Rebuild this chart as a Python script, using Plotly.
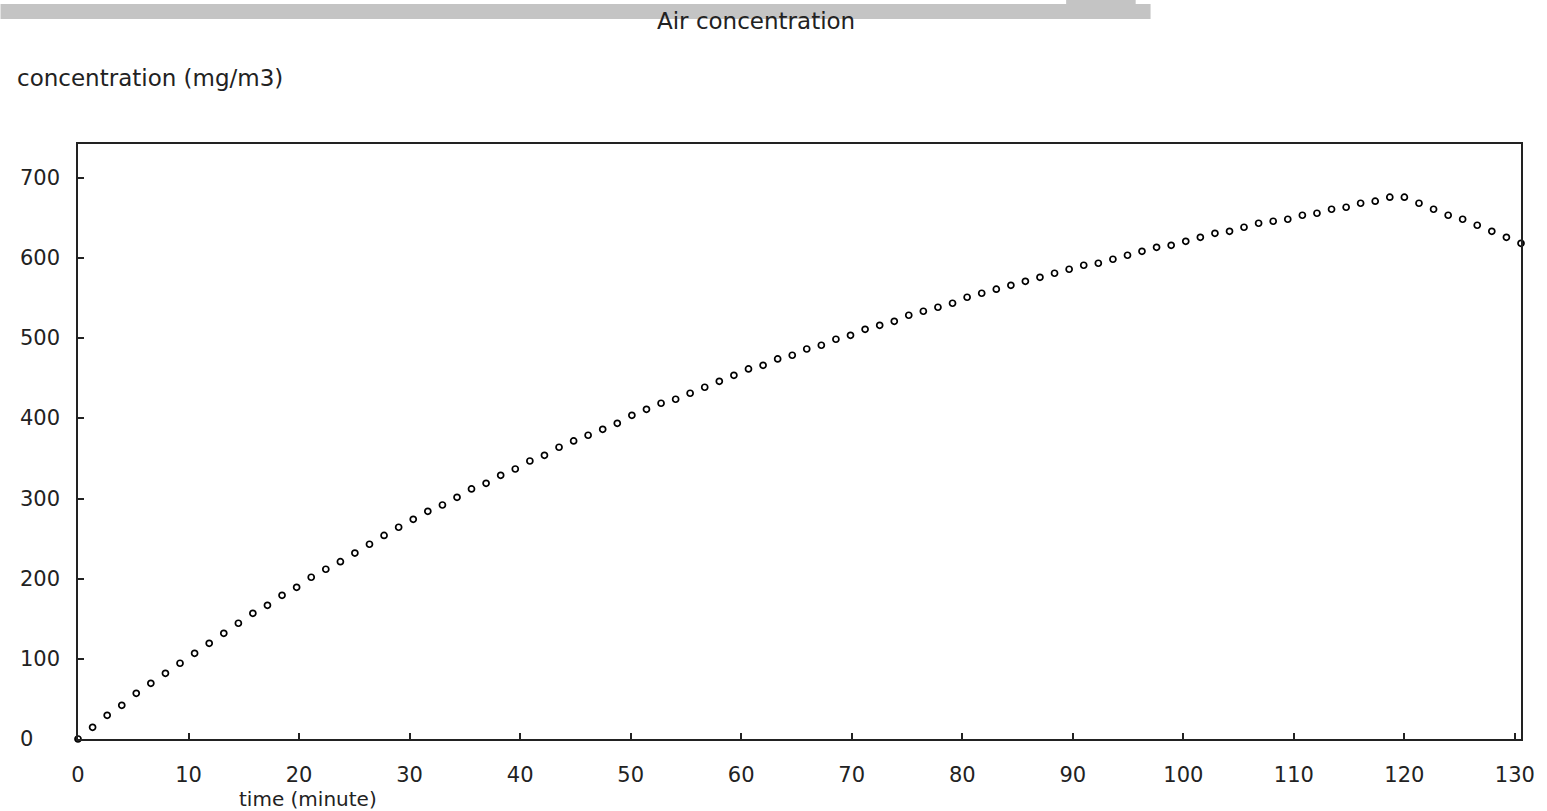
import plotly.graph_objects as go

# time (minute)
time_min = [0, 1.32, 2.64, 3.96, 5.27, 6.59, 7.91, 9.23, 10.55, 11.87,
            13.19, 14.51, 15.82, 17.14, 18.46, 19.78, 21.10, 22.42, 23.74, 25.05,
            26.37, 27.69, 29.01, 30.33, 31.65, 32.97, 34.29, 35.60, 36.92, 38.24,
            39.56, 40.88, 42.20, 43.52, 44.84, 46.15, 47.47, 48.79, 50.11, 51.43,
            52.75, 54.07, 55.38, 56.70, 58.02, 59.34, 60.66, 61.98, 63.30, 64.62,
            65.93, 67.25, 68.57, 69.89, 71.21, 72.53, 73.85, 75.16, 76.48, 77.80,
            79.12, 80.44, 81.76, 83.08, 84.40, 85.71, 87.03, 88.35, 89.67, 90.99,
            92.31, 93.63, 94.95, 96.26, 97.58, 98.90, 100.22, 101.54, 102.86, 104.18,
            105.49, 106.81, 108.13, 109.45, 110.77, 112.09, 113.41, 114.73, 116.04, 117.36,
            118.68, 120.00, 121.32, 122.64, 123.96, 125.27, 126.59, 127.91, 129.23, 130.55]

# concentration (mg/m3)
concentration = [0, 14.6, 29.6, 42.0, 57.0, 69.5, 82.0, 94.5, 106.9, 119.4,
                 131.9, 144.4, 156.8, 166.8, 179.3, 189.3, 201.8, 211.8, 221.2, 232.0,
                 243.0, 254.0, 264.2, 274.1, 284.1, 292.0, 301.6, 312.0, 319.0, 329.0,
                 336.9, 346.9, 354.0, 364.0, 371.9, 379.0, 386.4, 393.9, 403.9, 411.4,
                 418.9, 423.9, 431.4, 438.9, 446.3, 453.8, 461.7, 466.3, 474.2, 478.8,
                 486.6, 491.3, 498.8, 503.7, 511.2, 516.2, 521.2, 528.7, 533.7, 538.7,
                 543.7, 551.2, 556.2, 561.2, 566.1, 571.1, 576.1, 581.1, 586.1, 591.1,
                 593.6, 598.6, 603.6, 608.5, 613.5, 616.0, 621.0, 626.0, 631.0, 633.5,
                 638.5, 643.5, 646.0, 648.5, 653.5, 656.0, 661.0, 663.5, 668.5, 671.0,
                 676.0, 676.0, 668.5, 661.0, 653.5, 648.5, 641.0, 633.5, 626.0, 618.5]

x_ticks = [0, 10, 20, 30, 40, 50, 60, 70, 80, 90, 100, 110, 120, 130]
y_ticks = [0, 100, 200, 300, 400, 500, 600, 700]

TITLE = "Air concentration"
X_TITLE = "time (minute)"
Y_TITLE = "concentration (mg/m3)"

FONT = "DejaVu Sans"
TXT = "#222222"

W, H = 1547, 811
L, R, T, B = 78, 16, 144, 72
PW = W - L - R
PH = H - T - B


def px_x(p):
    return (p - L) / PW


def px_y(p):
    return (H - B - p) / PH


fig = go.Figure()
fig.add_trace(go.Scatter(
    x=time_min, y=concentration, mode="markers",
    marker=dict(symbol="circle-open", size=6, color="#000000",
                line=dict(width=1.7, color="#000000")),
    cliponaxis=False, showlegend=False,
))

annotations = [
    dict(text=TITLE, xref="paper", yref="paper", x=px_x(761), y=px_y(21),
         xanchor="center", yanchor="middle", showarrow=False,
         font=dict(family=FONT, size=23, color=TXT)),
    dict(text=Y_TITLE, xref="paper", yref="paper", x=px_x(15), y=px_y(78),
         xanchor="left", yanchor="middle", showarrow=False,
         font=dict(family=FONT, size=23, color=TXT)),
    dict(text=X_TITLE, xref="paper", yref="paper", x=px_x(238), y=px_y(799),
         xanchor="left", yanchor="middle", showarrow=False,
         font=dict(family=FONT, size=20, color=TXT)),
]
for v in y_ticks:
    annotations.append(dict(text=str(v), xref="paper", yref="y", x=px_x(18), y=v,
                            xanchor="left", yanchor="middle", showarrow=False,
                            font=dict(family=FONT, size=21, color=TXT)))

shapes = [
    dict(type="rect", xref="paper", yref="paper", x0=px_x(0), x1=px_x(1158),
         y0=px_y(19), y1=px_y(4), fillcolor="#c4c4c4", line=dict(width=0), layer="below"),
    dict(type="rect", xref="paper", yref="paper", x0=px_x(1073), x1=px_x(1143),
         y0=px_y(4), y1=px_y(0), fillcolor="#c4c4c4", line=dict(width=0), layer="below"),
]

fig.update_layout(
    width=W, height=H, autosize=False,
    margin=dict(l=L, r=R, t=T, b=B),
    paper_bgcolor="white", plot_bgcolor="white",
    annotations=annotations, shapes=shapes,
    xaxis=dict(range=[0, 130.55], tickvals=x_ticks, ticktext=[str(v) for v in x_ticks],
               ticks="inside", ticklen=6, tickwidth=1.5, tickcolor="#222",
               showline=True, linecolor="#222", linewidth=2, mirror=True,
               showgrid=False, zeroline=False, ticklabelstandoff=16,
               tickfont=dict(family=FONT, size=21, color=TXT)),
    yaxis=dict(range=[0, 742.4], tickvals=y_ticks, showticklabels=False,
               ticks="inside", ticklen=6, tickwidth=1.5, tickcolor="#222",
               showline=True, linecolor="#222", linewidth=2, mirror=True,
               showgrid=False, zeroline=False),
)

fig.write_html("out.html")
